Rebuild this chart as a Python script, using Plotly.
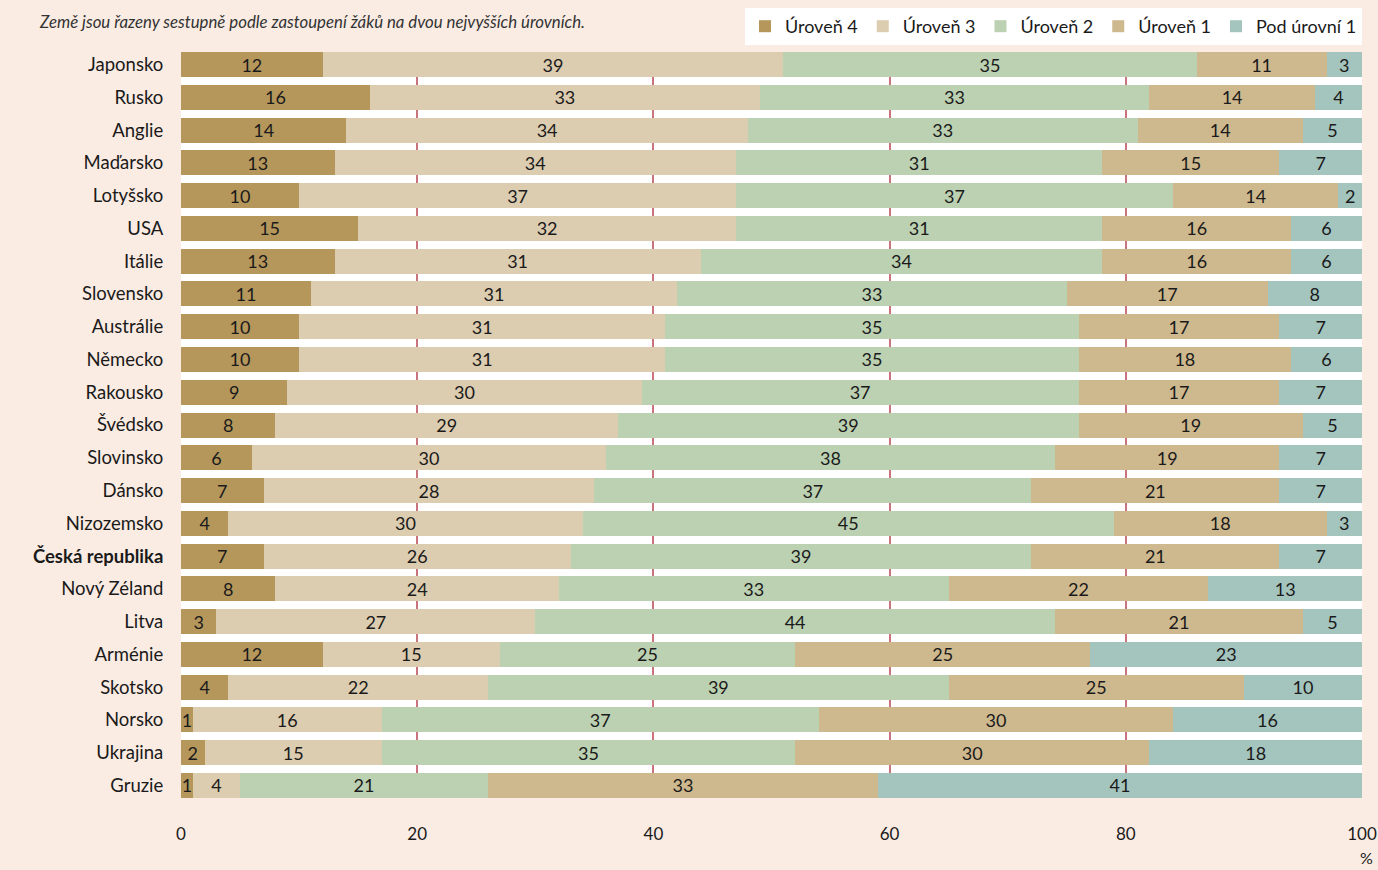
import plotly.graph_objects as go

countries = ["Japonsko", "Rusko", "Anglie", "Maďarsko", "Lotyšsko", "USA", "Itálie",
             "Slovensko", "Austrálie", "Německo", "Rakousko", "Švédsko", "Slovinsko",
             "Dánsko", "Nizozemsko", "Česká republika", "Nový Zéland", "Litva",
             "Arménie", "Skotsko", "Norsko", "Ukrajina", "Gruzie"]

uroven4 = [12, 16, 14, 13, 10, 15, 13, 11, 10, 10, 9, 8, 6, 7, 4, 7, 8, 3, 12, 4, 1, 2, 1]
uroven3 = [39, 33, 34, 34, 37, 32, 31, 31, 31, 31, 30, 29, 30, 28, 30, 26, 24, 27, 15, 22, 16, 15, 4]
uroven2 = [35, 33, 33, 31, 37, 31, 34, 33, 35, 35, 37, 39, 38, 37, 45, 39, 33, 44, 25, 39, 37, 35, 21]
uroven1 = [11, 14, 14, 15, 14, 16, 16, 17, 17, 18, 17, 19, 19, 21, 18, 21, 22, 21, 25, 25, 30, 30, 33]
pod1 = [3, 4, 5, 7, 2, 6, 6, 8, 7, 6, 7, 5, 7, 7, 3, 7, 13, 5, 23, 10, 16, 18, 41]

series_names = ["Úroveň 4", "Úroveň 3", "Úroveň 2", "Úroveň 1", "Pod úrovní 1"]
series_values = [uroven4, uroven3, uroven2, uroven1, pod1]
colors = ["#B5975C", "#DCCCB0", "#BBD1B2", "#CEB88E", "#A4C4BE"]

x_ticks = [0, 20, 40, 60, 80, 100]
highlight = "Česká republika"

FONT = "Lato"
fig = go.Figure()
for name, vals, col in zip(series_names, series_values, colors):
    fig.add_trace(go.Bar(
        y=countries, x=vals, name=name, orientation="h",
        marker=dict(color=col, line=dict(width=0)),
        text=[str(v) for v in vals], textposition="inside",
        insidetextanchor="middle", textangle=0,
        textfont=dict(family=FONT, size=18, color="#1a1a1a"),
        hoverinfo="skip",
    ))

ticktext = [f"<b>{c}</b>" if c == highlight else c for c in countries]

fig.update_layout(
    barmode="stack",
    bargap=0.237,
    width=1378, height=870,
    margin=dict(l=181, r=16, t=52, b=72, autoexpand=False),
    paper_bgcolor="#FAECE3",
    plot_bgcolor="#FFFFFF",
    font=dict(family=FONT, color="#1a1a1a"),
    uniformtext=dict(minsize=17, mode="show"),
    showlegend=True,
    legend=dict(
        orientation="h", x=1, xanchor="right", y=1 + 44 / 746, yanchor="top",
        bgcolor="#FFFFFF", font=dict(family=FONT, size=18, color="#1a1a1a"),
        traceorder="normal", itemwidth=30, tracegroupgap=0,
    ),
    xaxis=dict(
        range=[0, 100], tickvals=x_ticks, showgrid=True, automargin=False,
        gridcolor="#C9737D", gridwidth=1.5, zeroline=False, showline=False,
        ticks="outside", ticklen=21, tickcolor="rgba(0,0,0,0)",
        tickfont=dict(family=FONT, size=17, color="#1a1a1a"),
    ),
    yaxis=dict(
        categoryorder="array", categoryarray=countries, automargin=False,
        autorange=False, range=[22.3815, -0.3815],
        tickvals=countries, ticktext=ticktext,
        ticks="outside", ticklen=13, tickcolor="rgba(0,0,0,0)",
        tickfont=dict(family=FONT, size=18.5, color="#1a1a1a"),
        showgrid=False, zeroline=False, showline=False,
    ),
)

fig.add_annotation(
    text="<i>Země jsou řazeny sestupně podle zastoupení žáků na dvou nejvyšších úrovních.</i>",
    xref="paper", yref="paper", x=-144 / 1180, y=1 + 30 / 746,
    xanchor="left", yanchor="middle", showarrow=False,
    font=dict(family=FONT, size=16.8, color="#333333"),
)
fig.add_annotation(
    text="%", xref="paper", yref="paper", x=1.0034, y=-59 / 746,
    xanchor="center", yanchor="middle", showarrow=False,
    font=dict(family=FONT, size=16, color="#1a1a1a"),
)

fig.write_html(
    "out.html",
    config={"displayModeBar": False},
    post_script="document.body.style.margin='0';document.body.style.overflow='hidden';",
)
